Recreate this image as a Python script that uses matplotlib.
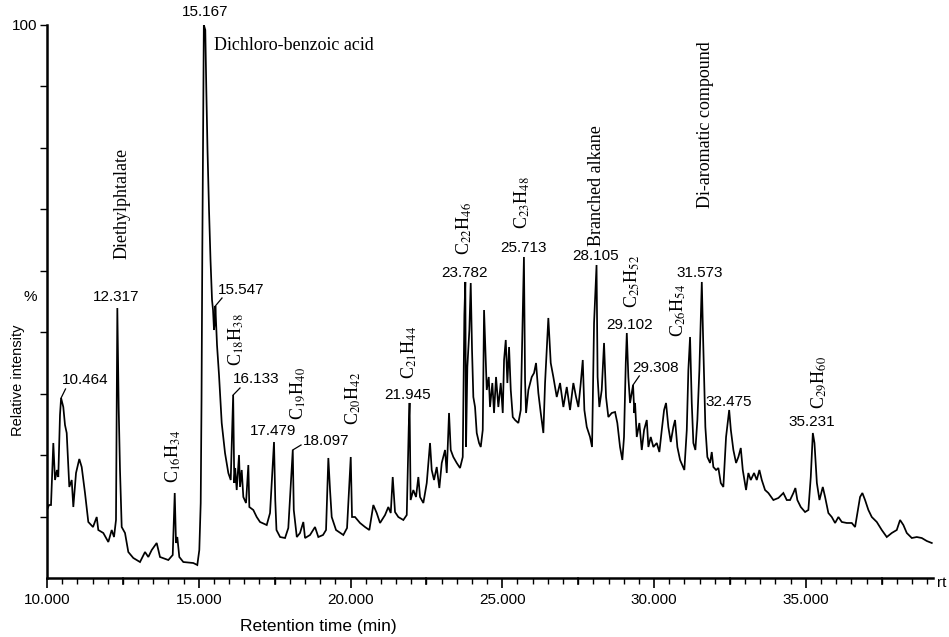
import numpy as np
import matplotlib
matplotlib.use("Agg")
import matplotlib.pyplot as plt
from matplotlib.ticker import MultipleLocator, FixedLocator

# ---------------- data ----------------
rt_min = [
    10.000, 10.066, 10.132, 10.208, 10.264, 10.329, 10.372, 10.428, 10.464, 10.537,
    10.593, 10.649, 10.735, 10.814, 10.867, 10.956, 11.064, 11.143, 11.252, 11.361,
    11.516, 11.638, 11.690, 11.855, 12.020, 12.132, 12.208, 12.273, 12.317, 12.362,
    12.405, 12.461, 12.570, 12.679, 12.843, 13.064, 13.229, 13.338, 13.450, 13.614,
    13.723, 13.997, 14.142, 14.208, 14.250, 14.293, 14.359, 14.491, 14.820, 14.952,
    15.018, 15.064, 15.091, 15.117, 15.150, 15.167, 15.215, 15.249, 15.288, 15.338,
    15.387, 15.437, 15.470, 15.502, 15.535, 15.547, 15.601, 15.667, 15.756, 15.865,
    15.974, 16.053, 16.133, 16.170, 16.200, 16.250, 16.326, 16.359, 16.415, 16.468,
    16.557, 16.633, 16.666, 16.797, 16.909, 17.018, 17.239, 17.348, 17.479, 17.520,
    17.560, 17.680, 17.842, 17.950, 18.097, 18.130, 18.230, 18.336, 18.445, 18.501,
    18.666, 18.830, 18.939, 19.094, 19.193, 19.269, 19.325, 19.380, 19.522, 19.763,
    19.885, 20.007, 20.049, 20.148, 20.313, 20.478, 20.620, 20.751, 20.863, 20.972,
    21.137, 21.245, 21.325, 21.390, 21.466, 21.575, 21.740, 21.852, 21.918, 21.945,
    21.980, 22.069, 22.158, 22.234, 22.290, 22.399, 22.511, 22.619, 22.675, 22.751,
    22.840, 22.926, 23.005, 23.114, 23.170, 23.245, 23.301, 23.387, 23.499, 23.608,
    23.697, 23.750, 23.782, 23.806, 23.849, 23.915, 23.960, 24.003, 24.046, 24.102,
    24.158, 24.234, 24.290, 24.356, 24.399, 24.442, 24.488, 24.554, 24.596, 24.672,
    24.728, 24.794, 24.870, 24.949, 25.015, 25.058, 25.114, 25.167, 25.223, 25.279,
    25.345, 25.420, 25.529, 25.608, 25.713, 25.750, 25.783, 25.859, 25.970, 26.046,
    26.112, 26.188, 26.267, 26.353, 26.409, 26.517, 26.596, 26.682, 26.794, 26.903,
    27.012, 27.124, 27.232, 27.341, 27.430, 27.506, 27.585, 27.651, 27.704, 27.783,
    27.891, 27.957, 28.023, 28.105, 28.140, 28.197, 28.276, 28.352, 28.418, 28.494,
    28.606, 28.715, 28.790, 28.879, 28.955, 29.010, 29.068, 29.102, 29.153, 29.209,
    29.308, 29.350, 29.374, 29.430, 29.516, 29.595, 29.671, 29.760, 29.813, 29.891,
    29.977, 30.089, 30.175, 30.254, 30.330, 30.395, 30.471, 30.550, 30.636, 30.692,
    30.768, 30.857, 30.998, 31.078, 31.130, 31.186, 31.242, 31.295, 31.361, 31.427,
    31.493, 31.573, 31.615, 31.690, 31.756, 31.845, 31.901, 31.954, 32.043, 32.119,
    32.198, 32.283, 32.372, 32.475, 32.530, 32.613, 32.702, 32.778, 32.857, 32.923,
    33.031, 33.107, 33.186, 33.295, 33.384, 33.470, 33.549, 33.657, 33.766, 33.931,
    34.096, 34.260, 34.372, 34.481, 34.590, 34.656, 34.721, 34.833, 34.975, 35.084,
    35.163, 35.231, 35.285, 35.364, 35.450, 35.559, 35.635, 35.743, 35.855, 35.964,
    36.073, 36.185, 36.349, 36.514, 36.623, 36.731, 36.787, 36.863, 36.952, 37.061,
    37.173, 37.338, 37.502, 37.667, 37.832, 37.996, 38.105, 38.214, 38.326, 38.491,
    38.655, 38.820, 38.985, 39.150,
]
intensity = [
    12.30, 13.20, 13.20, 24.41, 17.72, 19.53, 18.26, 29.48, 32.55, 30.92,
    27.67, 26.22, 16.46, 17.72, 12.84, 18.99, 21.52, 20.07, 15.37, 10.13,
    9.22, 11.03, 8.68, 8.14, 6.51, 8.68, 7.41, 10.49, 48.82, 30.74,
    19.53, 9.22, 8.14, 4.70, 3.62, 2.89, 4.70, 3.80, 5.06, 6.33,
    3.80, 3.25, 4.16, 15.37, 6.33, 7.41, 3.80, 2.89, 2.71, 2.35,
    5.06, 13.56, 32.19, 59.31, 86.44, 100.0, 99.10, 88.25, 77.40, 66.55,
    57.50, 50.27, 48.46, 44.85, 46.65, 49.19, 42.13, 36.71, 28.03, 22.60,
    18.99, 17.72, 33.09, 17.18, 19.89, 15.91, 22.24, 16.46, 19.53, 14.65,
    13.56, 20.43, 12.84, 12.30, 11.03, 10.13, 9.58, 11.75, 24.59, 14.10,
    8.68, 7.41, 7.23, 9.04, 23.15, 12.30, 7.41, 8.14, 10.13, 7.23,
    7.78, 9.22, 7.41, 7.78, 8.68, 21.70, 15.91, 11.03, 8.68, 7.78,
    9.04, 21.88, 11.03, 11.03, 9.95, 9.22, 8.68, 13.20, 11.75, 9.95,
    11.39, 12.84, 11.75, 18.26, 11.93, 11.03, 10.49, 11.39, 27.31, 31.65,
    14.10, 15.91, 14.65, 18.26, 14.65, 13.56, 17.18, 24.41, 19.53, 17.72,
    20.07, 16.27, 20.80, 23.15, 18.99, 29.84, 23.15, 21.88, 20.80, 19.89,
    21.88, 47.56, 53.53, 23.69, 38.16, 44.85, 53.34, 41.23, 32.73, 30.92,
    26.22, 24.41, 23.69, 26.76, 48.46, 41.23, 34.00, 36.35, 30.92, 35.26,
    29.84, 36.35, 30.92, 35.26, 29.84, 39.42, 43.04, 35.26, 41.77, 34.00,
    29.11, 28.57, 28.03, 30.38, 58.05, 35.80, 29.84, 34.00, 36.35, 37.07,
    38.88, 33.45, 29.84, 26.22, 35.26, 47.02, 38.88, 36.35, 32.73, 35.26,
    30.92, 34.54, 30.38, 35.26, 32.73, 30.92, 35.26, 39.42, 30.38, 27.31,
    25.50, 23.69, 46.11, 56.60, 36.35, 30.92, 34.00, 42.50, 32.73, 29.11,
    29.84, 30.02, 28.03, 23.69, 21.34, 25.50, 38.88, 44.30, 36.35, 31.65,
    34.90, 29.84, 31.65, 25.50, 28.03, 23.15, 26.76, 28.57, 23.69, 25.50,
    23.69, 24.41, 22.78, 26.76, 30.38, 31.65, 27.31, 24.59, 27.31, 28.57,
    23.69, 21.34, 19.53, 26.76, 37.61, 43.58, 31.65, 24.41, 23.15, 28.57,
    37.61, 53.53, 43.58, 27.31, 21.88, 20.80, 22.78, 20.07, 19.53, 19.89,
    17.18, 16.46, 25.50, 30.38, 26.76, 23.15, 20.80, 21.88, 23.51, 19.53,
    15.91, 18.99, 17.72, 18.99, 17.72, 19.53, 17.72, 15.91, 15.37, 14.10,
    14.47, 15.37, 14.10, 14.10, 15.37, 16.27, 14.10, 12.84, 11.93, 12.30,
    18.26, 26.22, 24.41, 17.18, 14.10, 16.46, 14.65, 11.75, 11.03, 9.95,
    11.03, 10.13, 9.95, 9.95, 9.22, 12.84, 14.65, 15.37, 14.10, 12.30,
    11.03, 10.13, 8.68, 7.41, 8.14, 8.68, 10.49, 9.58, 8.14, 7.23,
    7.41, 7.23, 6.69, 6.33,
]

# labelled peaks (retention-time labels)
peak_labels = ["15.167", "12.317", "10.464", "15.547", "16.133", "17.479", "18.097",
               "21.945", "23.782", "25.713", "28.105", "29.102", "29.308", "31.573",
               "32.475", "35.231"]

# compound names (rotated annotations)
compound_names = ["Diethylphtalate", "C$_{16}$H$_{34}$", "C$_{18}$H$_{38}$",
                  "C$_{19}$H$_{40}$", "C$_{20}$H$_{42}$", "C$_{21}$H$_{44}$",
                  "C$_{22}$H$_{46}$", "C$_{23}$H$_{48}$", "Branched alkane",
                  "C$_{25}$H$_{52}$", "C$_{26}$H$_{54}$", "Di-aromatic compound",
                  "C$_{29}$H$_{60}$"]

x_major = [10, 15, 20, 25, 30, 35]
x_major_labels = ["10.000", "15.000", "20.000", "25.000", "30.000", "35.000"]

# ---------------- layout (positions of the annotations) ----------------
peak_label_pos = {
    "15.167": (15.206, 102.35), "12.317": (12.273, 50.81), "10.464": (11.252, 35.80),
    "15.547": (16.392, 52.08), "16.133": (16.886, 35.99), "17.479": (17.446, 26.58),
    "18.097": (19.193, 24.77), "21.945": (21.895, 33.09), "23.782": (23.740, 55.15),
    "25.713": (25.684, 59.67), "28.105": (28.089, 58.23), "29.102": (29.209, 45.75),
    "29.308": (30.066, 37.97), "31.573": (31.516, 55.15), "32.475": (32.471, 31.83),
    "35.231": (35.206, 28.21),
}
leader_ends = {
    "10.464": (10.610, 34.18), "15.547": (15.766, 50.63), "16.133": (16.359, 34.36),
    "18.097": (18.369, 24.05), "29.308": (29.513, 36.53),
}
compound_pos = [
    (12.471, 67.81), (14.152, 22.06), (16.250, 43.04), (18.237, 33.45),
    (20.082, 32.55), (21.928, 40.87), (23.740, 63.29), (25.651, 67.81),
    (28.089, 71.0), (29.275, 53.71), (30.791, 48.46), (31.680, 81.92),
    (35.404, 35.44),
]

plt.rcParams["mathtext.fontset"] = "stix"
sans = "Liberation Sans"
serif = "Liberation Serif"

fig = plt.figure(figsize=(9.49, 6.37), dpi=100)
ax = fig.add_axes([47 / 949, 59 / 637, 886 / 949, 553 / 637])

ax.plot(rt_min, intensity, color="black", lw=1.25, solid_joinstyle="miter")
ax.set_xlim(10, 39.19)
ax.set_ylim(0, 100)

for s in ("top", "right"):
    ax.spines[s].set_visible(False)
for s in ("left", "bottom"):
    ax.spines[s].set_linewidth(1.8)

# x ticks
ax.xaxis.set_major_locator(FixedLocator(x_major))
ax.set_xticklabels(x_major_labels, fontfamily=sans, fontsize=11)
ax.xaxis.set_minor_locator(MultipleLocator(0.5))
ax.tick_params(axis="x", which="major", length=7, width=1.2, direction="out", pad=4)
ax.tick_params(axis="x", which="minor", length=4, width=1.0, direction="out")
mid_ticks = [12.5, 17.5, 22.5, 27.5, 32.5, 37.5]
for mt in mid_ticks:
    ax.plot([mt, mt], [0, -1.1], color="black", lw=1.2, clip_on=False)

# y ticks
yt = list(np.linspace(0, 100, 10)[1:])
ax.set_yticks(yt)
ax.set_yticklabels(["" for _ in yt[:-1]] + ["100"], fontfamily=sans, fontsize=11)
ax.tick_params(axis="y", length=5, width=1.0, direction="out", pad=2)

# axis texts
fig.text(18 / 949, 1 - 380 / 637, "Relative intensity", rotation=90, ha="center",
         va="center", fontfamily=sans, fontsize=10.5)
fig.text(30 / 949, 1 - 297 / 637, "%", ha="center", va="center", fontfamily=sans, fontsize=11)
fig.text(318 / 949, 1 - 627 / 637, "Retention time (min)", ha="center", va="center",
         fontfamily=sans, fontsize=12.5)
fig.text(942 / 949, 1 - 583 / 637, "rt", ha="center", va="center", fontfamily=sans, fontsize=11)

# peak labels
for lab in peak_labels:
    x, y = peak_label_pos[lab]
    ax.text(x, y, lab, ha="center", va="center", fontfamily=sans, fontsize=11, clip_on=False)
    if lab in leader_ends:
        pt = float(lab)
        i = int(np.argmin(np.abs(np.array(rt_min) - pt)))
        ex, ey = leader_ends[lab]
        ax.plot([rt_min[i], ex], [intensity[i], ey], color="black", lw=0.9)

# compound names
for name, (x, y) in zip(compound_names, compound_pos):
    ax.text(x, y, name, rotation=90, ha="center", va="center", fontfamily=serif,
            fontsize=13)
ax.text(15.502, 96.38, "Dichloro-benzoic acid", ha="left", va="center",
        fontfamily=serif, fontsize=13)

fig.savefig("out.png", dpi=100)
